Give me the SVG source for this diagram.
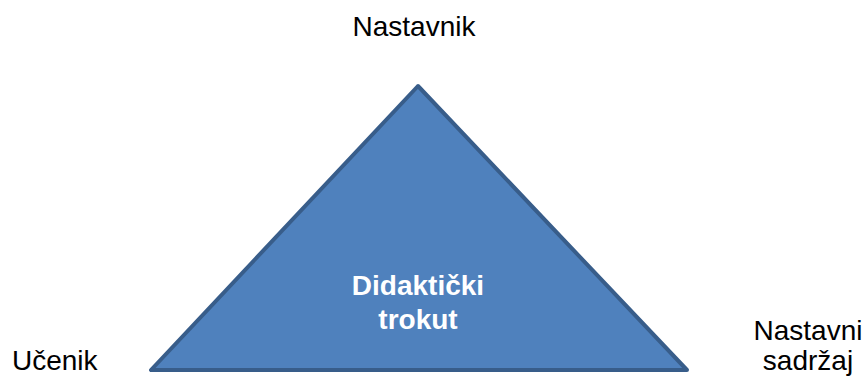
<svg xmlns="http://www.w3.org/2000/svg" width="865" height="378" viewBox="0 0 865 378">
<style>
.lbl{font-family:"Liberation Sans",Arial,sans-serif;font-size:28px;fill:#000}
.in{font-family:"Liberation Sans",Arial,sans-serif;font-size:28px;font-weight:bold;fill:#fff}
</style>
<rect width="865" height="378" fill="#fff"/>
<g id="triangle">
<polygon points="418,86 151,370 687,370" fill="#4F81BD" stroke="#385D8A" stroke-width="4" stroke-linejoin="round"/>
<text class="in" x="418" y="295" text-anchor="middle">Didaktički</text>
<text class="in" x="418" y="329" text-anchor="middle">trokut</text>
</g>
<g id="nastavnik"><text class="lbl" x="414" y="36" text-anchor="middle">Nastavnik</text></g>
<g id="ucenik"><text class="lbl" x="12" y="370">Učenik</text></g>
<g id="sadrzaj">
<text class="lbl" x="808" y="340" text-anchor="middle">Nastavni</text>
<text class="lbl" x="808" y="370" text-anchor="middle">sadržaj</text>
</g>
<g id="connectors"></g>
</svg>
